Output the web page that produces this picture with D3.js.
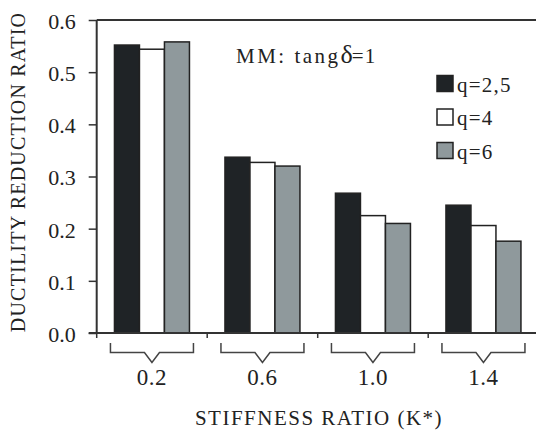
<!DOCTYPE html>
<html>
<head>
<meta charset="utf-8">
<script src="https://cdn.jsdelivr.net/npm/d3@7"></script>
<style>
  body { margin: 0; background: #fff; }
  svg { display: block; }
</style>
</head>
<body>
<svg id="chart" width="536" height="435"></svg>
<script>
// stiffness ratio groups and the three q series
const categories = ["0.2", "0.6", "1.0", "1.4"];
const seriesNames = ["q = 2,5", "q = 4", "q = 6"];
const q25 = [0.552, 0.337, 0.268, 0.245];
const q4 = [0.544, 0.327, 0.225, 0.206];
const q6 = [0.558, 0.320, 0.210, 0.176];
const yTicks = [0.0, 0.1, 0.2, 0.3, 0.4, 0.5, 0.6];

const colors = ["#1f2326", "#ffffff", "#8f999c"];
const allSeries = [q25, q4, q6];
const serif = "Liberation Serif, Times New Roman, Times, Noto Serif, DejaVu Serif, FreeSerif, Nimbus Roman, Georgia, serif";

const svg = d3.select("#chart");
const plotLeft = 96.7, plotRight = 538.7, plotTop = 20, plotBottom = 333;

const x0 = d3.scaleBand().domain(categories).range([plotLeft, plotRight]);
const x1 = d3.scaleBand().domain(d3.range(3)).range([0, x0.bandwidth()]).paddingOuter(0.71);
const y = d3.scaleLinear().domain([0, 0.6]).range([plotBottom, plotTop]);

// bars
const groups = svg.selectAll("g.grp")
  .data(categories)
  .join("g")
  .attr("class", "grp")
  .attr("transform", d => `translate(${x0(d)},0)`);

groups.selectAll("rect")
  .data((c, i) => allSeries.map((s, k) => ({ k: k, v: s[i] })))
  .join("rect")
  .attr("x", d => x1(d.k))
  .attr("width", x1.bandwidth())
  .attr("y", d => y(d.v))
  .attr("height", d => y(0) - y(d.v))
  .attr("fill", d => colors[d.k])
  .attr("stroke", "#222")
  .attr("stroke-width", 1.5);

// frame: top line, left axis, bottom axis
svg.append("line").attr("x1", plotLeft).attr("x2", 536).attr("y1", plotTop).attr("y2", plotTop)
  .attr("stroke", "#333").attr("stroke-width", 2);
svg.append("line").attr("x1", plotLeft).attr("x2", plotLeft).attr("y1", plotTop).attr("y2", plotBottom)
  .attr("stroke", "#333").attr("stroke-width", 2);
svg.append("line").attr("x1", plotLeft - 8).attr("x2", 536).attr("y1", plotBottom).attr("y2", plotBottom)
  .attr("stroke", "#333").attr("stroke-width", 2);

// y axis
const yAxis = svg.append("g")
  .attr("transform", `translate(${plotLeft},0)`)
  .call(d3.axisLeft(y).tickValues(yTicks).tickFormat(d3.format(".1f")).tickSize(8).tickPadding(13));
yAxis.select(".domain").remove();
yAxis.attr("font-family", null).attr("font-size", null);
yAxis.selectAll("line").attr("stroke", "#333").attr("stroke-width", 1.5);
yAxis.selectAll("text").attr("fill", "#222").attr("dy", "0.38em")
  .style("font-family", serif).style("font-size", "22px");

// x axis: boundary ticks between groups
svg.selectAll("line.xtick")
  .data(categories)
  .join("line")
  .attr("class", "xtick")
  .attr("x1", d => x0(d)).attr("x2", d => x0(d))
  .attr("y1", plotBottom).attr("y2", plotBottom + 5)
  .attr("stroke", "#333").attr("stroke-width", 1.5);

// brackets under each group
const bracket = c => {
  const cx = x0(c) + x0.bandwidth() / 2;
  const hw = 41.5, t = plotBottom + 10, h = plotBottom + 19.5, v = plotBottom + 29.5;
  return `M${cx - hw},${t}V${h}H${cx - 7.5}L${cx},${v}L${cx + 7.5},${h}H${cx + hw}V${t}`;
};
svg.selectAll("path.bracket")
  .data(categories)
  .join("path")
  .attr("class", "bracket")
  .attr("d", bracket)
  .attr("fill", "none")
  .attr("stroke", "#444")
  .attr("stroke-width", 1.5);

const labels = svg.append("g").style("font-family", serif).attr("fill", "#222");

labels.selectAll("text.xlab")
  .data(categories)
  .join("text")
  .attr("class", "xlab")
  .attr("x", d => x0(d) + x0.bandwidth() / 2)
  .attr("y", 385)
  .attr("text-anchor", "middle")
  .attr("font-size", 23)
  .attr("letter-spacing", 0.5)
  .text(d => d);

// axis titles
labels.append("text")
  .attr("x", 319).attr("y", 425)
  .attr("text-anchor", "middle")
  .attr("font-size", 21)
  .attr("letter-spacing", 1.5)
  .text("STIFFNESS RATIO (K*)");

labels.append("text")
  .attr("transform", "translate(25,172) rotate(-90)")
  .attr("text-anchor", "middle")
  .attr("font-size", 20)
  .attr("letter-spacing", 1.2)
  .text("DUCTILITY REDUCTION RATIO");

// annotation
const note = labels.append("text").attr("x", 236).attr("y", 63).attr("font-size", 21);
note.append("tspan").attr("letter-spacing", 2.5).text("MM: tang");
note.append("tspan").attr("font-size", 26).text("δ");
note.append("tspan").attr("letter-spacing", 1).attr("dx", -1).text("=1");

// legend
const legend = labels.selectAll("g.leg")
  .data(seriesNames)
  .join("g")
  .attr("class", "leg")
  .attr("transform", (d, i) => `translate(437,${75.5 + i * 33.5})`);
legend.append("rect")
  .attr("width", 16).attr("height", 16)
  .attr("fill", (d, i) => colors[i])
  .attr("stroke", "#222").attr("stroke-width", 1.5);
legend.append("text")
  .attr("x", 20).attr("y", 16)
  .attr("font-size", 21)
  .attr("letter-spacing", 1.2)
  .text(d => d.replace(/ /g, ""));
</script>
</body>
</html>
